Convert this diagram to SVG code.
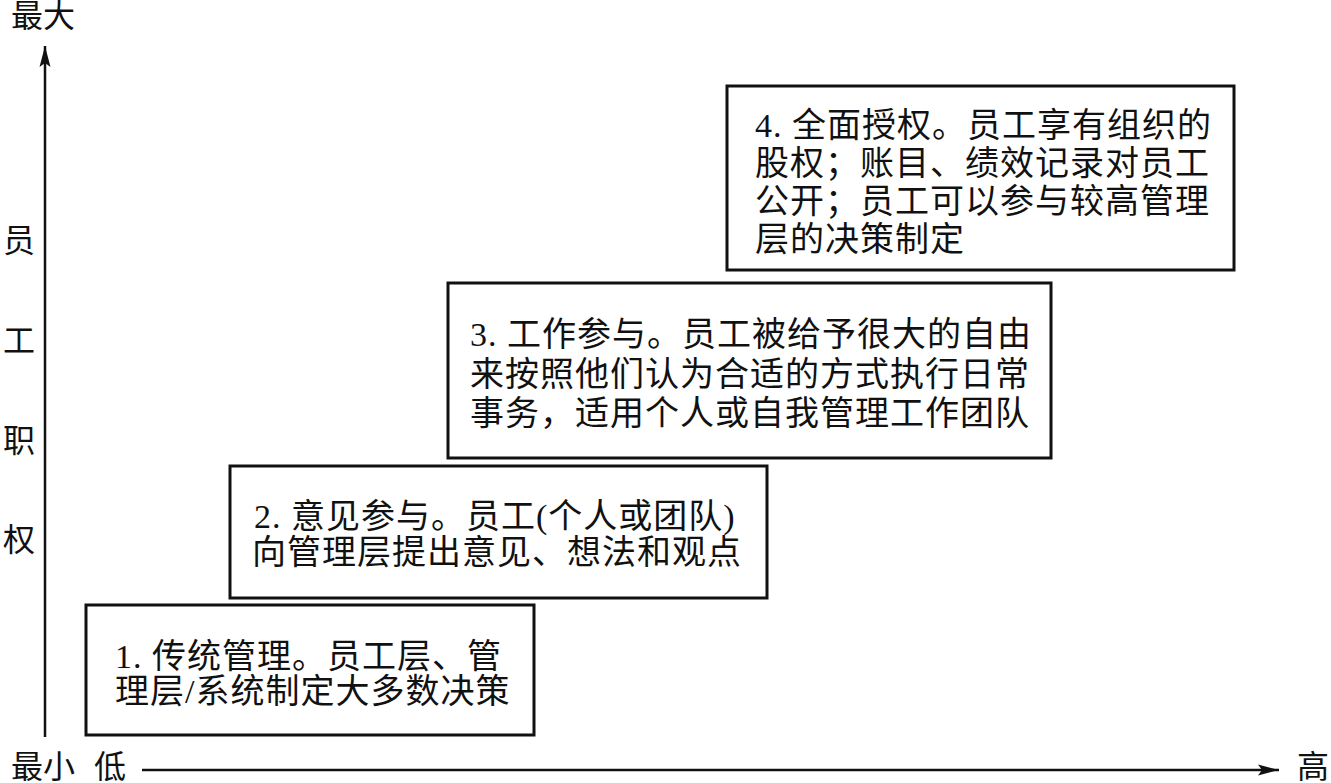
<svg xmlns="http://www.w3.org/2000/svg" width="1331" height="783" viewBox="0 0 1331 783">
<style>
  .t { font-family: "Liberation Serif", "Noto Sans CJK SC", serif; font-size: 34px; letter-spacing: 1px; fill: #111; }
  .ax { font-family: "Liberation Serif", "Noto Sans CJK SC", serif; font-size: 32px; fill: #111; }
  .box { fill: #fff; stroke: #111; stroke-width: 3; }
  .axis { stroke: #111; stroke-width: 2.5; fill: none; }
</style>
<defs>
  <marker id="arr" markerUnits="userSpaceOnUse" markerWidth="24" markerHeight="14" refX="21" refY="7" orient="auto">
    <path d="M0,1.5 L21,7 L0,12.5 L4,7 Z" fill="#111"/>
  </marker>
</defs>
<rect width="1331" height="783" fill="#fff"/>
<g id="connectors">
  <line class="axis" x1="45" y1="737" x2="45" y2="46" marker-end="url(#arr)"/>
  <line class="axis" x1="142" y1="770" x2="1279" y2="770" marker-end="url(#arr)"/>
</g>
<g id="axis-labels">
  <text class="ax" x="11" y="27">最大</text>
  <text class="ax" x="11" y="778">最小</text>
  <text class="ax" x="94" y="778">低</text>
  <text class="ax" x="1297" y="778">高</text>
  <text class="ax" x="3" y="252" font-size="30">员</text>
  <text class="ax" x="3" y="352" font-size="30">工</text>
  <text class="ax" x="3" y="452" font-size="30">职</text>
  <text class="ax" x="3" y="551" font-size="30">权</text>
</g>
<g id="box1">
  <rect class="box" x="86" y="605" width="448" height="130"/>
  <text class="t" x="115" y="668">1. 传统管理。员工层、管</text>
  <text class="t" x="115" y="703">理层/系统制定大多数决策</text>
</g>
<g id="box2">
  <rect class="box" x="230" y="466" width="537" height="132"/>
  <text class="t" x="254" y="528">2. 意见参与。员工(个人或团队)</text>
  <text class="t" x="252" y="564">向管理层提出意见、想法和观点</text>
</g>
<g id="box3">
  <rect class="box" x="448" y="283" width="603" height="175"/>
  <text class="t" x="470" y="346">3. 工作参与。员工被给予很大的自由</text>
  <text class="t" x="470" y="386">来按照他们认为合适的方式执行日常</text>
  <text class="t" x="470" y="425">事务，适用个人或自我管理工作团队</text>
</g>
<g id="box4">
  <rect class="box" x="727" y="86" width="507" height="184"/>
  <text class="t" x="755" y="137">4. 全面授权。员工享有组织的</text>
  <text class="t" x="755" y="175">股权；账目、绩效记录对员工</text>
  <text class="t" x="755" y="213">公开；员工可以参与较高管理</text>
  <text class="t" x="755" y="251">层的决策制定</text>
</g>
</svg>
